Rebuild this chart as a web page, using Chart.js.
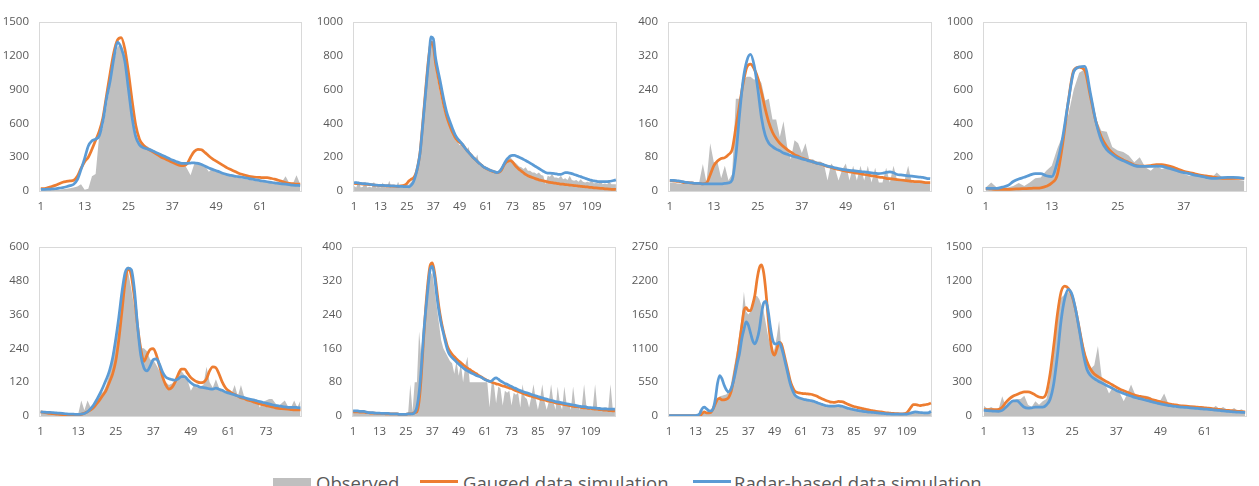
<!DOCTYPE html>
<html><head><meta charset="utf-8">
<script src="https://cdn.jsdelivr.net/npm/chart.js@4.4.1/dist/chart.umd.min.js"></script>
<style>
html,body{margin:0;padding:0;background:#fff;width:1259px;height:486px;overflow:hidden;position:relative;font-family:'Open Sans',sans-serif;}
canvas{position:absolute;}
.lk{position:absolute;}
.lt{position:absolute;top:474px;font-size:18.5px;line-height:18px;color:#595959;white-space:nowrap;font-family:'Open Sans',sans-serif;}
</style></head><body>
<canvas id="p1"></canvas><canvas id="p2"></canvas><canvas id="p3"></canvas><canvas id="p4"></canvas>
<canvas id="p5"></canvas><canvas id="p6"></canvas><canvas id="p7"></canvas><canvas id="p8"></canvas>
<div class="lk" style="left:273px;top:478px;width:38px;height:10px;background:#BFBFBF"></div>
<div class="lt" style="left:316px">Observed</div>
<div class="lk" style="left:420px;top:480px;width:38px;height:3px;background:#ED7D31"></div>
<div class="lt" style="left:463px">Gauged data simulation</div>
<div class="lk" style="left:693px;top:480px;width:38px;height:3px;background:#5B9BD5"></div>
<div class="lt" style="left:734px">Radar-based data simulation</div>
<script>
// ---------- tick labels ----------
const ticks72 = ['1','13','25','37','49','61'];
const ticks120 = ['1','13','25','37','49','61','73','85','97','109'];
const ticks48 = ['1','13','25','37'];
const ticks84 = ['1','13','25','37','49','61','73'];
const yMax  = [1500,1000,400,1000,600,400,2750,1500];
const yStep = [300,200,80,200,120,80,550,300];

// ---------- panel 1 (72) ----------
const obs1 = [10,15,40,20,15,10,15,20,25,30,40,60,
 10,20,130,150,500,560,750,950,1150,1280,1300,1150,
 900,650,500,430,420,400,380,360,340,330,310,300,
 250,230,260,250,200,140,240,260,240,220,170,200,
 180,170,150,140,130,125,120,110,105,100,95,90,
 85,80,80,75,70,70,80,130,70,65,140,60];
const gau1 = [20,22,30,40,50,65,78,85,90,95,130,200,
 260,300,370,450,530,650,850,1050,1230,1340,1360,1260,
 1050,800,580,460,410,380,360,340,320,300,285,270,
 255,240,228,225,240,300,350,370,365,340,310,285,
 265,245,225,205,190,175,160,148,138,130,125,122,
 120,118,118,112,105,95,85,75,68,65,62,60];
const rad1 = [15,15,16,18,20,25,30,38,48,60,100,190,
 290,400,445,460,490,620,820,980,1180,1320,1270,1150,
 900,650,480,410,385,375,365,350,335,320,305,290,
 275,262,250,245,245,248,250,245,235,220,205,192,
 180,168,155,145,138,132,127,122,117,110,105,98,
 92,87,82,77,72,68,64,60,56,52,50,48];

// ---------- panel 2 (120) ----------
const obs2 = [30,20,60,20,25,55,20,25,20,55,20,25,
 20,50,20,25,60,20,25,20,55,20,25,30,
 30,40,55,70,85,130,220,360,520,680,820,880,
 850,740,650,580,520,470,430,440,370,330,300,290,
 270,280,250,235,260,210,195,180,216,150,160,140,
 130,125,120,115,108,100,120,140,165,180,195,200,
 185,170,160,145,140,130,140,120,120,110,110,100,
 110,95,90,40,90,85,100,80,80,75,90,70,
 75,65,90,65,60,65,55,70,55,50,55,50,
 65,45,50,45,60,40,45,40,55,40,40,40];
const gau2 = [45,44,43,42,41,40,39,38,37,35,34,33,
 32,32,31,30,30,29,29,28,28,30,32,35,
 45,60,70,78,100,150,230,370,520,670,800,880,
 860,760,690,620,555,495,445,405,370,340,315,298,
 288,278,262,245,230,215,200,188,175,163,152,141,
 134,127,121,116,112,109,112,125,150,169,176,180,
 172,155,140,128,118,108,98,90,85,80,75,70,
 66,63,60,57,54,51,49,47,45,43,41,40,
 38,37,35,34,32,31,29,28,26,25,24,22,
 21,19,18,17,16,15,13,12,11,10,10,9];
const rad2 = [50,49,47,45,44,43,42,40,38,36,35,34,
 34,33,32,32,31,30,30,29,28,27,27,26,
 26,25,35,55,94,150,225,360,507,650,790,912,
 900,790,720,658,590,526,470,430,395,360,330,310,
 295,280,262,244,230,215,200,188,175,163,152,141,
 135,128,122,118,113,109,115,132,155,179,195,207,
 210,210,205,200,194,187,180,173,165,157,149,141,
 133,125,117,109,106,105,104,103,101,99,98,104,
 109,108,106,103,98,94,89,85,80,75,71,66,
 63,60,58,56,56,56,56,56,57,59,62,66];

// ---------- panel 3 (72) ----------
const obs3 = [20,20,18,18,18,18,18,18,20,64,20,113,
 68,68,30,60,25,40,218,218,263,270,270,263,
 270,255,214,218,169,169,128,165,105,75,120,113,
 90,113,75,75,70,70,65,25,65,55,25,50,
 65,25,60,25,60,25,60,20,55,20,20,55,
 20,60,25,25,25,60,20,20,20,20,20,20];
const gau3 = [25,24,23,22,20,20,19,18,18,17,19,38,
 60,71,77,79,86,98,150,203,255,293,300,289,
 267,233,195,162,139,124,113,105,98,92,86,82,
 78,75,72,69,66,64,61,58,56,53,51,49,
 47,45,44,42,41,39,38,36,35,33,32,30,
 29,28,27,26,25,24,23,22,22,21,20,20];
const rad3 = [25,25,24,23,21,20,19,18,18,17,17,17,
 17,17,17,18,19,26,83,180,263,308,323,297,
 241,173,132,113,105,99,95,90,87,84,81,79,
 76,74,71,69,66,64,62,59,57,55,53,51,
 50,49,48,47,46,45,44,43,42,41,42,44,
 45,43,39,38,37,36,35,34,33,32,30,29];

// ---------- panel 4 (48) ----------
const obs4 = [20,50,20,20,20,30,47,30,50,75,80,120,
 150,250,330,450,600,700,720,580,430,357,350,260,
 240,230,210,170,200,140,120,150,130,140,130,120,
 100,90,100,85,80,75,110,80,75,70,65,60];
const gau4 = [15,12,10,10,10,11,13,14,15,17,19,28,
 47,94,282,526,714,733,714,564,414,320,263,226,
 201,184,169,154,147,147,150,156,156,150,141,128,
 117,109,102,94,90,85,79,75,75,75,75,75];
const rad4 = [15,15,15,23,32,56,71,81,94,103,103,90,
 85,169,320,526,705,733,737,583,414,300,244,216,
 194,179,164,150,145,145,145,147,145,137,128,117,
 109,103,94,88,81,75,75,79,81,81,79,75];

// ---------- panel 5 (84) ----------
const obs5 = [10,10,10,9,8,8,7,6,6,5,5,5,
 6,55,20,55,30,40,60,80,85,110,150,220,
 290,320,420,490,510,450,380,300,240,240,230,200,
 200,180,160,130,120,110,115,125,150,160,145,125,
 90,110,100,105,110,175,120,100,130,100,90,85,
 90,80,110,70,110,70,65,60,55,60,30,50,
 55,60,60,45,35,45,55,35,30,55,30,55];
const gau5 = [15,13,11,9,8,7,6,5,4,3,3,4,
 5,6,10,15,22,31,45,59,75,93,120,149,
 194,272,373,474,525,497,418,317,239,194,216,236,
 239,216,177,138,110,95,102,121,149,166,166,151,
 136,127,121,118,120,132,160,174,171,149,121,101,
 90,82,76,71,65,62,57,54,50,46,43,40,
 37,35,32,29,27,26,25,24,23,22,22,22];
const rad5 = [15,14,13,13,12,11,10,9,8,7,7,6,
 6,7,9,15,26,40,59,80,104,130,160,205,
 272,351,440,508,525,519,446,317,216,171,160,177,
 200,203,183,155,138,132,129,127,132,140,140,129,
 118,110,107,102,101,99,96,95,99,95,91,85,
 82,78,75,71,68,65,62,59,57,54,51,48,
 46,43,40,37,36,34,32,31,31,31,30,29];

// ---------- panel 6 (120) ----------
const obs6 = [8,8,7,8,7,7,6,6,6,6,6,5,
 5,5,5,5,5,5,5,5,5,5,5,5,
 5,6,75,10,80,80,200,140,200,240,280,330,
 340,300,260,220,180,160,150,140,130,125,100,130,
 95,125,80,120,140,80,80,80,80,80,80,80,
 80,80,20,80,75,30,70,65,25,60,55,60,
 25,55,50,55,20,75,45,40,20,45,75,40,
 15,40,75,35,15,35,75,35,15,70,30,15,
 70,30,30,15,70,28,25,15,25,75,25,22,
 15,22,75,20,20,15,20,20,18,75,18,18];
const gau6 = [10,10,10,9,9,9,8,8,7,7,7,6,
 6,6,6,5,5,5,5,5,5,4,4,4,
 4,5,5,6,8,10,35,95,180,255,315,355,
 362,340,300,258,226,201,181,163,153,146,140,135,
 130,126,121,117,113,110,106,103,100,96,93,90,
 87,84,82,80,78,76,75,73,71,70,68,66,
 65,62,60,58,56,54,52,50,48,47,45,44,
 42,40,39,38,36,35,34,33,31,30,29,28,
 27,26,25,24,23,22,22,21,20,19,19,18,
 18,17,16,16,15,15,14,14,13,13,12,12];
const rad6 = [12,12,12,11,11,11,9,8,8,8,7,7,
 7,6,6,6,6,5,5,5,5,4,4,4,
 4,5,5,5,8,21,55,114,189,249,301,346,
 354,331,286,249,219,197,174,155,144,138,133,128,
 123,118,114,110,107,104,101,99,96,94,92,89,
 86,84,82,83,88,90,87,83,80,77,75,72,
 70,67,65,62,60,58,56,55,53,51,49,48,
 46,44,43,41,40,38,37,36,34,33,32,31,
 30,29,28,27,26,25,24,23,22,22,21,20,
 20,19,19,18,18,17,17,17,16,16,16,16];

// ---------- panel 7 (120) ----------
const obs7 = [5,5,5,5,5,5,5,5,5,5,5,5,
 5,5,103,50,60,55,60,70,100,200,280,320,
 330,340,350,400,500,700,900,1100,1350,1600,2020,1700,
 1650,1700,1800,1950,1950,1900,1800,1700,1500,1300,1150,1000,
 1100,1300,1550,1100,950,800,650,500,400,330,300,290,
 280,270,260,250,240,230,220,210,200,190,185,180,
 170,160,155,150,150,150,145,140,135,125,120,115,
 110,105,100,95,90,85,80,75,72,70,65,62,
 60,58,55,52,50,48,46,44,42,40,40,40,
 40,45,50,55,60,55,50,50,55,55,60,60];
const gau7 = [5,5,5,5,5,5,5,5,5,5,5,5,
 5,5,5,41,67,51,51,60,118,195,272,288,
 262,262,272,298,375,530,735,941,1198,1455,1712,1764,
 1712,1712,1815,1969,2226,2406,2457,2329,2020,1609,1249,1044,
 992,1095,1198,1172,1044,889,735,581,478,411,385,375,
 370,365,362,360,355,350,337,324,306,288,272,257,
 244,231,226,221,228,236,234,231,213,195,181,167,
 154,146,137,129,120,112,103,96,89,82,77,72,
 67,62,56,51,48,44,41,39,37,36,36,37,
 50,93,144,185,185,178,170,175,180,187,195,211];
const rad7 = [5,5,5,5,5,5,5,5,5,5,5,5,
 5,15,41,118,144,118,87,82,118,272,530,658,
 607,504,427,391,427,530,684,864,1018,1249,1404,1532,
 1481,1352,1224,1172,1249,1404,1661,1841,1866,1712,1455,1249,
 1172,1172,1198,1121,992,838,684,530,427,350,314,298,
 285,272,265,257,252,247,235,221,208,195,183,170,
 165,159,159,159,165,170,162,154,142,129,120,112,
 103,96,89,82,77,72,67,63,60,57,53,50,
 46,43,40,36,34,32,31,31,31,31,31,31,
 31,40,51,60,67,62,57,54,51,51,55,77];

// ---------- panel 8 (72) ----------
const obs8 = [90,64,80,60,60,175,80,120,140,150,150,180,
 100,80,130,100,130,150,300,650,950,1050,1080,1100,
 1050,950,800,650,500,420,450,620,350,280,200,250,
 230,200,130,200,280,200,150,180,180,170,150,130,
 140,200,120,100,70,100,95,90,90,90,85,80,
 75,70,60,90,60,80,60,50,70,45,60,40];
const gau8 = [56,56,56,57,59,78,120,154,177,191,205,213,
 213,205,185,168,163,205,373,625,906,1102,1152,1130,
 1060,934,765,597,485,415,373,350,331,311,294,275,
 255,238,224,210,196,185,177,171,163,154,143,135,
 126,118,109,104,98,93,90,87,84,81,78,76,
 73,70,66,62,58,53,50,48,45,42,39,36];
const rad8 = [50,47,45,43,42,50,78,112,135,135,107,78,
 70,73,78,78,78,98,149,289,541,849,1046,1124,
 1074,934,751,555,415,359,331,311,294,278,261,244,
 227,213,199,188,177,165,157,149,140,132,123,115,
 107,101,95,90,85,81,78,76,73,70,67,64,
 61,59,56,53,49,45,42,39,36,34,32,31];

// ---------- build ----------
function categories(n){ const a=[]; for(let i=1;i<=n;i++) a.push(String(i)); return a; }

const FONT = "'Open Sans', 'DejaVu Sans', sans-serif";
const TICK_COLOR = '#595959';
const C_OBS = '#BFBFBF', C_GAU = '#ED7D31', C_RAD = '#5B9BD5';

// plot rectangles: left, top, right, bottom (page px)
const rects = [
 [39,13,302,191],[353,13,617,191],[668,13,932,191],[983,13,1247,191],
 [39,238,302,416],[352,238,616,416],[668,238,932,416],[982,238,1247,416]
];
const panels = [
 {obs:obs1,gau:gau1,rad:rad1,ticks:ticks72},
 {obs:obs2,gau:gau2,rad:rad2,ticks:ticks120},
 {obs:obs3,gau:gau3,rad:rad3,ticks:ticks72},
 {obs:obs4,gau:gau4,rad:rad4,ticks:ticks48},
 {obs:obs5,gau:gau5,rad:rad5,ticks:ticks84},
 {obs:obs6,gau:gau6,rad:rad6,ticks:ticks120},
 {obs:obs7,gau:gau7,rad:rad7,ticks:ticks120},
 {obs:obs8,gau:gau8,rad:rad8,ticks:ticks72}
];

const YW = 46, PT = 8, PR = 8, XH = 26;

const framePlugin = {
  id:'frame',
  beforeDatasetsDraw(chart){
    const {ctx, chartArea:a} = chart;
    ctx.save();
    ctx.strokeStyle = '#D9D9D9';
    ctx.lineWidth = 1;
    ctx.strokeRect(Math.round(a.left)+0.5, Math.round(a.top)+0.5, Math.round(a.right-a.left)-1, Math.round(a.bottom-a.top));
    ctx.restore();
  }
};

panels.forEach((p, k) => {
  const [L,T,R,B] = rects[k];
  const cv = document.getElementById('p'+(k+1));
  const w = YW + (R-L) + PR, h = PT + (B-T) + XH;
  cv.width = w; cv.height = h;
  cv.style.left = (L-YW)+'px'; cv.style.top = (T-PT)+'px';
  cv.style.width = w+'px'; cv.style.height = h+'px';
  const cats = categories(p.obs.length);
  const show = new Set(p.ticks);
  new Chart(cv, {
    type:'line',
    data:{
      labels: cats,
      datasets:[
        {label:'Radar-based data simulation', data:p.rad, borderColor:C_RAD, borderWidth:2.75, pointRadius:0, fill:false, cubicInterpolationMode:'monotone', order:1},
        {label:'Gauged data simulation', data:p.gau, borderColor:C_GAU, borderWidth:2.75, pointRadius:0, fill:false, cubicInterpolationMode:'monotone', order:2},
        {label:'Observed', data:p.obs, borderColor:'rgba(0,0,0,0)', borderWidth:0, backgroundColor:C_OBS, pointRadius:0, fill:'origin', tension:0, order:3}
      ]
    },
    options:{
      responsive:false, animation:false, devicePixelRatio:1,
      layout:{padding:{top:PT,right:PR,left:0,bottom:0}},
      plugins:{legend:{display:false}, tooltip:{enabled:false}},
      scales:{
        x:{type:'category', offset:true,
           grid:{display:false, drawTicks:false}, border:{display:false},
           ticks:{autoSkip:false, maxRotation:0, minRotation:0, padding:9, color:TICK_COLOR,
                  font:{family:FONT, size:11.5},
                  callback(v){ const l=this.getLabelForValue(v); return show.has(l)?l:''; }},
           afterFit(s){ s.height = XH; }},
        y:{min:0, max:yMax[k],
           grid:{display:false, drawTicks:false}, border:{display:false},
           ticks:{stepSize:yStep[k], padding:10, color:TICK_COLOR, font:{family:FONT, size:11.5},
                  callback(v){ return String(v); }},
           afterFit(s){ s.width = YW; }}
      }
    },
    plugins:[framePlugin]
  });
});
</script>
</body></html>
